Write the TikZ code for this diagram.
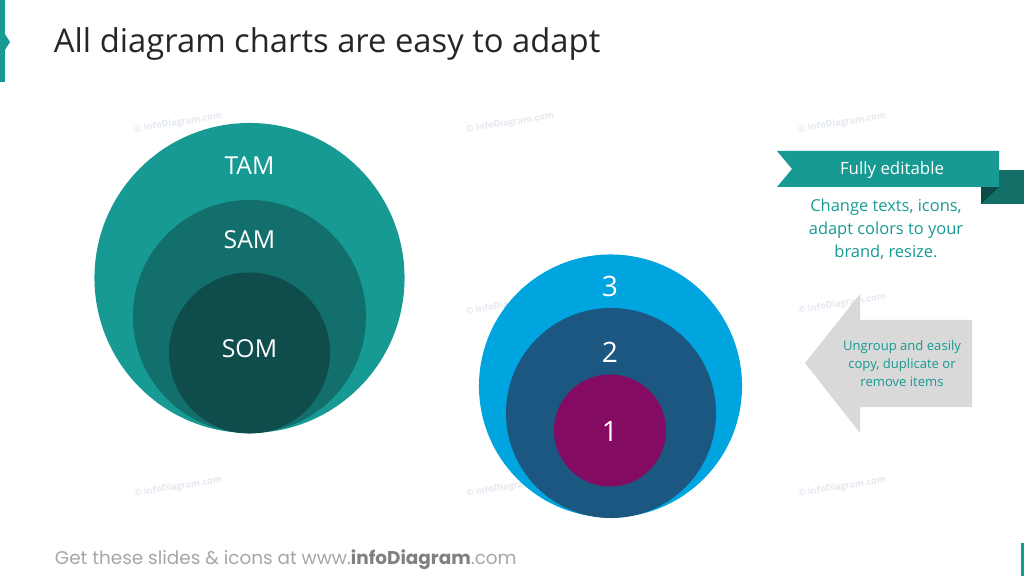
\documentclass[tikz,border=0pt]{standalone}
\usepackage{fontspec}
\setmainfont{Open Sans}
\newfontfamily\footfont{Poppins}
\definecolor{tam}{HTML}{179A93}
\definecolor{sam}{HTML}{126F6B}
\definecolor{som}{HTML}{0F4D4C}
\definecolor{lvlthree}{HTML}{00A5DF}
\definecolor{lvltwo}{HTML}{1B5780}
\definecolor{lvlone}{HTML}{840B62}
\definecolor{fold}{HTML}{127068}
\definecolor{folddark}{HTML}{0C4A45}
\definecolor{arrowgray}{HTML}{D9D9D9}
\definecolor{wmark}{HTML}{E3E8EF}
\definecolor{footgray}{HTML}{A6A6A6}
\tikzset{
  ring/.style={circle,inner sep=0pt,outer sep=0pt},
  lbl/.style={text=white,font=\fontsize{17.6}{20}\selectfont},
  num/.style={text=white,font=\fontsize{20}{24}\selectfont},
  wm/.style={text=wmark,rotate=9,font=\fontsize{6.5}{8}\selectfont\bfseries},
}
\begin{document}
\begin{tikzpicture}[x=0.025cm,y=-0.025cm]
\useasboundingbox(0,0)rectangle(1024,576);
% side bars
\fill[tam](0,0)rectangle(5,82);
\fill[tam](5,34)--(10,42)--(5,50)--cycle;
\fill[tam](1021,543)rectangle(1024,576);
\node(title)[anchor=west,text=black!85,font=\fontsize{23.3}{28}\selectfont]at(49,44){All diagram charts are easy to adapt};
% watermarks
\node(wm1)[wm]at(178,123){\textcopyright{} infoDiagram.com};
\node(wm2)[wm]at(510,123){\textcopyright{} infoDiagram.com};
\node(wm3)[wm]at(842,123){\textcopyright{} infoDiagram.com};
\node(wm4)[wm]at(510,305){\textcopyright{} infoDiagram.com};
\node(wm5)[wm]at(842,304){\textcopyright{} infoDiagram.com};
\node(wm6)[wm]at(178,487){\textcopyright{} infoDiagram.com};
\node(wm7)[wm]at(510,487){\textcopyright{} infoDiagram.com};
\node(wm8)[wm]at(842,487){\textcopyright{} infoDiagram.com};
% TAM SAM SOM
\node(tam)[ring,fill=tam,minimum size=7.75cm]at(249.5,278){};
\node(sam)[ring,fill=sam,minimum size=5.825cm]at(249.5,316.5){};
\node(som)[ring,fill=som,minimum size=4.025cm]at(249.5,353){};
\node(tamlbl)[lbl]at(249.5,166){TAM};
\node(samlbl)[lbl]at(249.5,240){SAM};
\node(somlbl)[lbl]at(249.5,349){SOM};
% 3 2 1
\node(three)[ring,fill=lvlthree,minimum size=6.575cm]at(610.5,386){};
\node(two)[ring,fill=lvltwo,minimum size=5.25cm]at(611,413){};
\node(one)[ring,fill=lvlone,minimum size=2.8cm]at(610,430.5){};
\node(threelbl)[num]at(610,286){3};
\node(twolbl)[num]at(610,352){2};
\node(onelbl)[num]at(610,431){1};
% ribbon
\fill[fold](981,170)rectangle(1024,204);
\fill[folddark](981,187)--(999,187)--(981,204)--cycle;
\fill[tam](777,151)--(999,151)--(999,187)--(777,187)--(792,169)--cycle;
\node(ribbon)[text=white,font=\fontsize{12}{14}\selectfont]at(892,170){Fully editable};
\node(edit)[text=tam,align=center,font=\fontsize{11.7}{16.4}\selectfont]at(886,229){Change texts, icons,\\adapt colors to your\\brand, resize.};
% arrow
\fill[arrowgray](805,363)--(860,294)--(860,320)--(972,320)--(972,407)--(860,407)--(860,433)--cycle;
\node(ungroup)[text=tam,align=center,font=\fontsize{9.3}{12.8}\selectfont]at(902,364){Ungroup and easily\\copy, duplicate or\\remove items};
% footer
\node(foot)[anchor=west,text=footgray,font=\footfont\fontsize{13.1}{15}\selectfont]at(50,560){Get these slides \& icons at www.{\color{gray}\bfseries infoDiagram}.com};
\end{tikzpicture}
\end{document}
